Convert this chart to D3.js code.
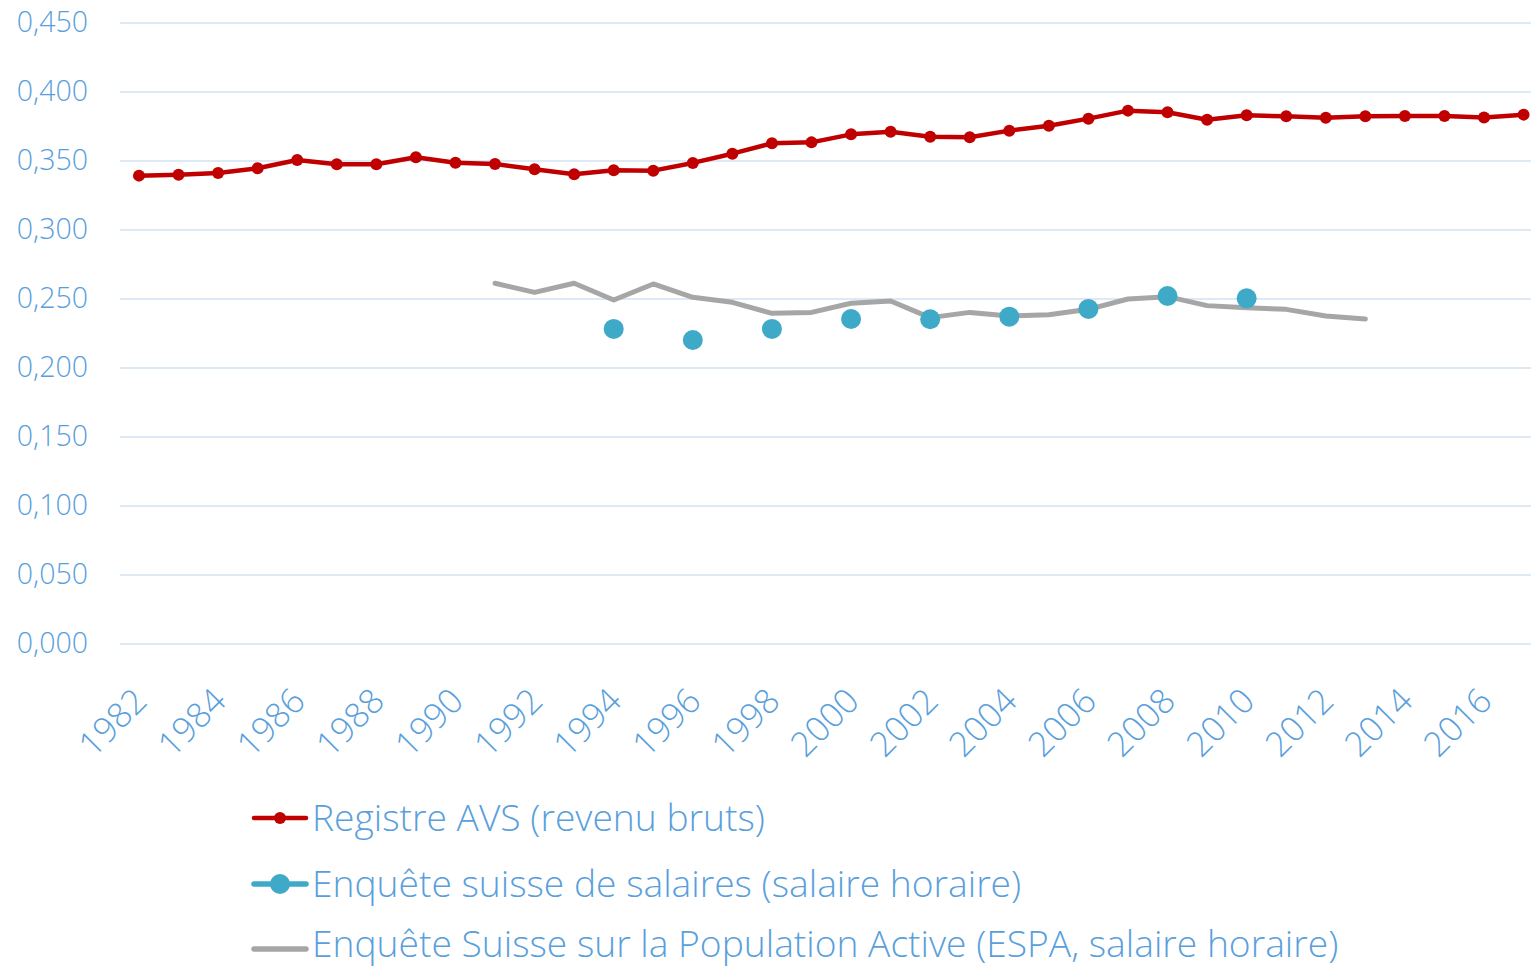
<!DOCTYPE html>
<html>
<head>
<meta charset="utf-8">
<script src="https://cdn.jsdelivr.net/npm/d3@7"></script>
<style>
  html, body { margin: 0; padding: 0; background: #fff; }
  svg text { font-family: "Open Sans", sans-serif; font-weight: 300; fill: #5a9fdc; }
</style>
</head>
<body>
<svg id="chart" width="1531" height="970"></svg>
<script>
const years = d3.range(1982, 2018);
const tickYears = [1982,1984,1986,1988,1990,1992,1994,1996,1998,2000,2002,2004,2006,2008,2010,2012,2014,2016];
const yTicks = [0,0.05,0.1,0.15,0.2,0.25,0.3,0.35,0.4,0.45];

const avsValues = [0.3394,0.3401,0.3413,0.3447,0.3507,0.3476,0.3476,0.3527,0.3488,0.3478,
  0.3440,0.3404,0.3433,0.3430,0.3486,0.3553,0.3628,0.3635,0.3693,0.3712,
  0.3676,0.3672,0.3720,0.3756,0.3807,0.3865,0.3853,0.3799,0.3831,0.3824,
  0.3814,0.3824,0.3826,0.3826,0.3816,0.3836];

const essYears = [1994,1996,1998,2000,2002,2004,2006,2008,2010];
const essValues = [0.2283,0.2203,0.2283,0.2355,0.2353,0.2372,0.2428,0.2522,0.2505];

const espaYears = d3.range(1991, 2014);
const espaValues = [0.2614,0.2548,0.2614,0.2493,0.2609,0.2512,0.2476,0.2396,0.2403,0.2469,
  0.2486,0.2365,0.2403,0.2377,0.2386,0.2425,0.2500,0.2517,0.2452,0.2437,
  0.2425,0.2377,0.2355];

const seriesNames = ["Registre AVS (revenu bruts)",
  "Enquête suisse de salaires (salaire horaire)",
  "Enquête Suisse sur la Population Active (ESPA, salaire horaire)"];
const colors = ["#c00000", "#3faac8", "#a6a6a6"];

const svg = d3.select("#chart");
const left = 119.2, bandW = 39.56;
const x = d3.scaleBand().domain(years).range([left, left + bandW * years.length]).padding(0);
const xc = yr => x(yr) + x.bandwidth() / 2;
const y = d3.scaleLinear().domain([0, 0.45]).range([644, 23]);

// gridlines
svg.append("g").selectAll("line").data(yTicks).join("line")
  .attr("x1", 120).attr("x2", 1531)
  .attr("y1", d => y(d)).attr("y2", d => y(d))
  .attr("stroke", "#dde9f5").attr("stroke-width", 2);

// y axis labels
const fmt = d => d3.format(".3f")(d).replace(".", ",");
svg.append("g").selectAll("text").data(yTicks).join("text")
  .attr("x", 88).attr("y", d => y(d) - 1).attr("dy", "0.35em")
  .attr("text-anchor", "end").style("font-size", "28.5px")
  .text(fmt);

// x axis labels
svg.append("g").selectAll("text").data(tickYears).join("text")
  .attr("transform", d => `translate(${xc(d) + 10},${703}) rotate(-45)`)
  .attr("text-anchor", "end")
  .style("font-size", "34.5px")
  .text(d => d);

// ESPA line
const line = d3.line().x(d => xc(d[0])).y(d => y(d[1]));
svg.append("path").datum(espaYears.map((yr, i) => [yr, espaValues[i]]))
  .attr("d", line).attr("fill", "none").attr("stroke", colors[2])
  .attr("stroke-width", 5).attr("stroke-linecap", "round").attr("stroke-linejoin", "round");

// ESS dots
svg.append("g").selectAll("circle").data(essYears.map((yr, i) => [yr, essValues[i]])).join("circle")
  .attr("cx", d => xc(d[0])).attr("cy", d => y(d[1])).attr("r", 10)
  .attr("fill", colors[1]);

// AVS line + markers
const avs = years.map((yr, i) => [yr, avsValues[i]]);
svg.append("path").datum(avs)
  .attr("d", line).attr("fill", "none").attr("stroke", colors[0])
  .attr("stroke-width", 4.5).attr("stroke-linejoin", "round");
svg.append("g").selectAll("circle").data(avs).join("circle")
  .attr("cx", d => xc(d[0])).attr("cy", d => y(d[1])).attr("r", 6)
  .attr("fill", colors[0]);

// legend
const legY = [818, 884, 949];
const leg = svg.append("g");
seriesNames.forEach((name, i) => {
  const g = leg.append("g").attr("transform", `translate(0,${legY[i]})`);
  g.append("line").attr("x1", 254).attr("x2", 306).attr("y1", 0).attr("y2", 0)
    .attr("stroke", colors[i]).attr("stroke-width", i === 0 ? 4.5 : 5.5).attr("stroke-linecap", "round");
  if (i === 0) g.append("circle").attr("cx", 280).attr("cy", 0).attr("r", 6).attr("fill", colors[0]);
  if (i === 1) g.append("circle").attr("cx", 280).attr("cy", 0).attr("r", 10).attr("fill", colors[1]);
  g.append("text").attr("x", 312).attr("y", i === 2 ? -5 : 0).attr("dy", "0.35em")
    .style("font-size", "37.2px").text(name);
});
</script>
</body>
</html>
